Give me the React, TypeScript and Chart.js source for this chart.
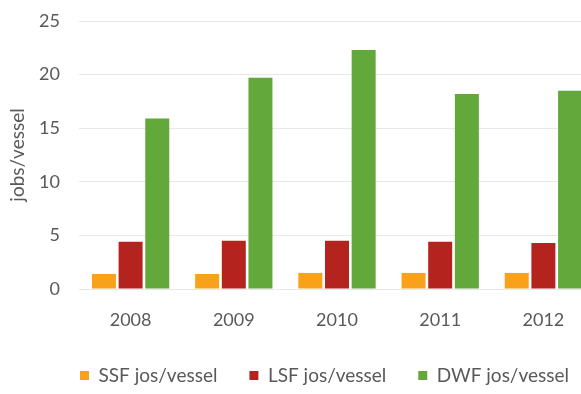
import React, { useEffect, useRef } from "react";
import { Chart, registerables } from "chart.js";

Chart.register(...registerables);

const categories = ["2008", "2009", "2010", "2011", "2012"];
const ssfValues = [1.4, 1.4, 1.5, 1.5, 1.5];
const lsfValues = [4.4, 4.5, 4.5, 4.4, 4.3];
const dwfValues = [15.9, 19.7, 22.3, 18.2, 18.5];
const seriesNames = ["SSF jos/vessel", "LSF jos/vessel", "DWF jos/vessel"];
const yTicks = [0, 5, 10, 15, 20, 25];

const FONT = "Lato, 'Liberation Sans', sans-serif";
const TEXT = "#595959";

const legendShift = {
  id: "legendShift",
  afterLayout(chart: any) {
    const lg = chart.legend;
    if (lg) {
      lg.left += 27;
      lg.right += 27;
    }
  },
};

export default function App() {
  const ref = useRef<HTMLCanvasElement | null>(null);
  useEffect(() => {
    if (!ref.current) return;
    const chart = new Chart(ref.current, {
      type: "bar",
      data: {
        labels: categories,
        datasets: [
          { label: seriesNames[0], data: ssfValues, backgroundColor: "#f9a11b" },
          { label: seriesNames[1], data: lsfValues, backgroundColor: "#b5231f" },
          { label: seriesNames[2], data: dwfValues, backgroundColor: "#62a83a" },
        ],
      },
      plugins: [legendShift],
      options: {
        animation: false,
        responsive: false,
        maintainAspectRatio: false,
        datasets: { bar: { categoryPercentage: 0.775, barPercentage: 0.9 } },
        layout: { padding: { top: 21, left: 0, right: 0, bottom: 0 } },
        plugins: {
          tooltip: { enabled: false },
          legend: {
            position: "bottom",
            maxHeight: 60,
            labels: {
              boxWidth: 9,
              boxHeight: 9,
              padding: 32,
              color: TEXT,
              font: { family: FONT, size: 19 },
            },
          },
        },
        scales: {
          x: {
            grid: { display: false, drawTicks: false },
            border: { display: false },
            ticks: { color: TEXT, padding: 20, font: { family: FONT, size: 18 } },
            afterFit: (s: any) => {
              s.height = 45;
            },
          },
          y: {
            min: 0,
            max: 25,
            afterBuildTicks: (s: any) => {
              s.ticks = yTicks.map((v) => ({ value: v }));
            },
            grid: { color: "#e8e8e8", drawTicks: false },
            border: { display: false },
            ticks: { color: TEXT, padding: 19, font: { family: FONT, size: 18 } },
            title: {
              display: true,
              text: "jobs/vessel",
              color: TEXT,
              padding: { top: 6, bottom: 0 },
              font: { family: FONT, size: 19 },
            },
            afterFit: (s: any) => {
              s.width = 79;
              s.paddingTop = 0;
              s.paddingBottom = 0;
            },
          },
        },
      },
    });
    return () => chart.destroy();
  }, []);
  return (
    <div
      style={{
        position: "fixed",
        left: 0,
        top: 0,
        width: 581,
        height: 394,
        overflow: "hidden",
        background: "#fff",
      }}
    >
      <canvas ref={ref} width={595} height={394} style={{ width: 595, height: 394, display: "block" }} />
    </div>
  );
}
